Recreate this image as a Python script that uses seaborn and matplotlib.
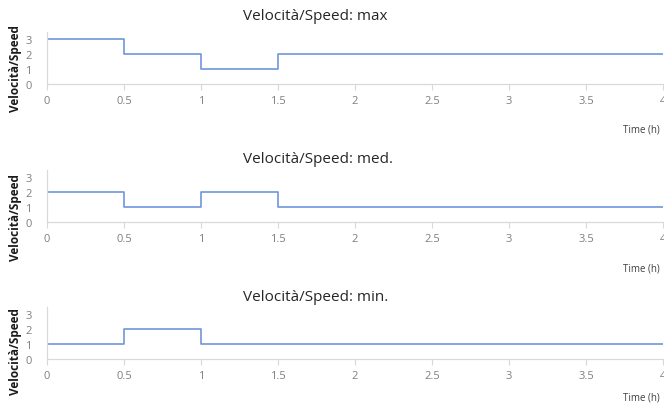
import matplotlib
matplotlib.use("Agg")
import matplotlib.pyplot as plt
import seaborn as sns
import pandas as pd

sns.set_theme(style="white")
plt.rcParams['font.family'] = ['Open Sans', 'DejaVu Sans']

time_h = [0, 0.5, 1, 1.5, 4]
speed_max = [3, 2, 1, 2, 2]
speed_med = [2, 1, 2, 1, 1]
speed_min = [1, 2, 1, 1, 1]
titles = ["Velocità/Speed: max", "Velocità/Speed: med.", "Velocità/Speed: min."]
xticks = [0, 0.5, 1, 1.5, 2, 2.5, 3, 3.5, 4]
xticklabels = ["0", "0.5", "1", "1.5", "2", "2.5", "3", "3.5", "4"]
yticks = [0, 1, 2, 3]

fig = plt.figure(figsize=(6.64, 4.06), dpi=100)
W, H = 664, 406
left_px, right_px = 47, 663
zero_px = [85, 223, 360]
title_off = [16.5, 11, 10]
time_off = [45, 46, 38]
ylabel_y = [0.32, 0.11, 0.17]
unit_px = 15.0
ylim_top = 3.5

line_color = "#7096dc"
spine_color = "#d9d9d9"
tick_color = "#7f7f7f"

for series, title, z, toff, tmoff, ly in zip([speed_max, speed_med, speed_min],
                                              titles, zero_px, title_off, time_off, ylabel_y):
    h = unit_px * ylim_top
    ax = fig.add_axes([left_px / W, 1 - z / H, (right_px - left_px) / W, h / H])
    df = pd.DataFrame({"t": time_h, "v": series})
    sns.lineplot(data=df, x="t", y="v", ax=ax, drawstyle="steps-post",
                 color=line_color, linewidth=1.2)
    ax.set_xlim(0, 4)
    ax.set_ylim(0, ylim_top)
    ax.set_xticks(xticks)
    ax.set_xticklabels(xticklabels)
    ax.set_yticks(yticks)
    for s in ["top", "right"]:
        ax.spines[s].set_visible(False)
    for s in ["left", "bottom"]:
        ax.spines[s].set_color(spine_color)
        ax.spines[s].set_linewidth(0.9)
    ax.tick_params(axis="x", which="both", bottom=True, length=4, width=0.8,
                   color=spine_color, labelcolor=tick_color, labelsize=8, pad=4)
    ax.tick_params(axis="y", which="both", left=False, labelcolor=tick_color,
                   labelsize=8, pad=5)
    ax.annotate(title, xy=((243 - left_px) / (right_px - left_px), 1),
                xycoords="axes fraction", xytext=(0, toff), textcoords="offset pixels",
                ha="left", va="center", fontsize=11, color="#262626")
    ax.set_ylabel("Velocità/Speed", fontsize=8.5, fontweight="bold", color="#1a1a1a")
    ax.yaxis.set_label_coords(-0.041, ly)
    ax.set_xlabel("")
    ax.annotate("Time (h)", xy=(1, 0), xycoords="axes fraction",
                xytext=(-3, -tmoff), textcoords="offset pixels",
                ha="right", va="center", fontsize=7, color="#404040")
    ax.grid(False)

fig.savefig("out.png", dpi=100)
